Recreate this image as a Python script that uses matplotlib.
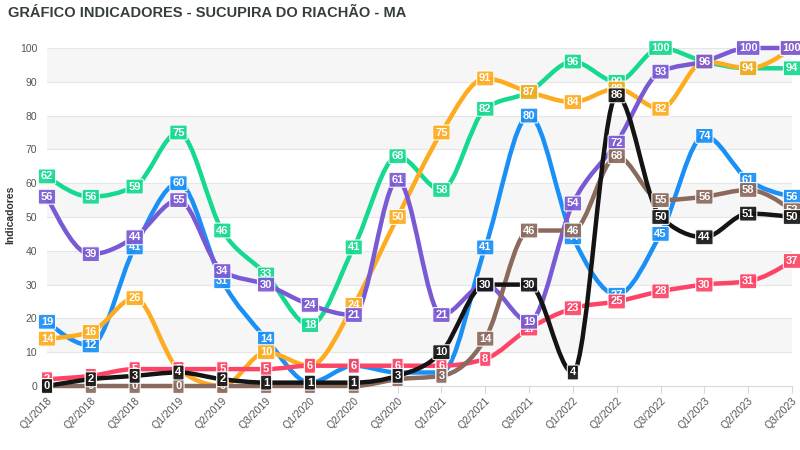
import matplotlib
matplotlib.use("Agg")
import matplotlib.pyplot as plt
from matplotlib.path import Path
from matplotlib.patches import PathPatch

plt.rcParams['font.family'] = ['Liberation Sans', 'DejaVu Sans']

periods = ['Q1/2018', 'Q2/2018', 'Q3/2018', 'Q1/2019', 'Q2/2019', 'Q3/2019',
           'Q1/2020', 'Q2/2020', 'Q3/2020', 'Q1/2021', 'Q2/2021', 'Q3/2021',
           'Q1/2022', 'Q2/2022', 'Q3/2022', 'Q1/2023', 'Q2/2023', 'Q3/2023']

blue = [19, 12, 41, 60, 31, 14, 1, 6, 4, 4, 41, 80, 44, 27, 45, 74, 61, 56]
green = [62, 56, 59, 75, 46, 33, 18, 41, 68, 58, 82, 87, 96, 90, 100, 96, 94, 94]
orange = [14, 16, 26, 5, 0, 10, 6, 24, 50, 75, 91, 87, 84, 88, 82, 96, 94, 100]
red = [2, 3, 5, 5, 5, 5, 6, 6, 6, 6, 8, 17, 23, 25, 28, 30, 31, 37]
purple = [56, 39, 44, 55, 34, 30, 24, 21, 61, 21, 30, 19, 54, 72, 93, 96, 100, 100]
brown = [0, 0, 0, 0, 0, 0, 0, 0, 2, 3, 14, 46, 46, 68, 55, 56, 58, 52]
black = [0, 2, 3, 4, 2, 1, 1, 1, 3, 10, 30, 30, 4, 86, 50, 44, 51, 50]

series = [
    (blue, '#1a8ff5'),
    (green, '#14d98e'),
    (orange, '#fdab1f'),
    (red, '#fd4466'),
    (purple, '#7a59d4'),
    (brown, '#8b6a5e'),
    (black, '#141414'),
]


def sign(v):
    return (v > 0) - (v < 0)


def smooth_path(xs, ys):
    # monotone cubic (like d3 curveMonotoneX), drawn as bezier segments
    n = len(xs)
    s = [(ys[i + 1] - ys[i]) / (xs[i + 1] - xs[i]) for i in range(n - 1)]
    m = [0.0] * n
    for i in range(1, n - 1):
        h0 = xs[i] - xs[i - 1]
        h1 = xs[i + 1] - xs[i]
        p = (s[i - 1] * h1 + s[i] * h0) / (h0 + h1)
        m[i] = (sign(s[i - 1]) + sign(s[i])) * min(abs(s[i - 1]), abs(s[i]), 0.5 * abs(p))
    m[0] = (3 * s[0] - m[1]) / 2
    m[-1] = (3 * s[-1] - m[-2]) / 2
    verts = [(xs[0], ys[0])]
    codes = [Path.MOVETO]
    for i in range(n - 1):
        dx = (xs[i + 1] - xs[i]) / 3
        verts += [(xs[i] + dx, ys[i] + m[i] * dx),
                  (xs[i + 1] - dx, ys[i + 1] - m[i + 1] * dx),
                  (xs[i + 1], ys[i + 1])]
        codes += [Path.CURVE4] * 3
    return Path(verts, codes)


fig = plt.figure(figsize=(8, 4.5), dpi=100)
ax = fig.add_axes([47 / 800, 1 - 386 / 450, 745 / 800, 338 / 450])

x = list(range(len(periods)))

# alternating bands
for lo in range(10, 100, 20):
    ax.axhspan(lo, lo + 10, color='#f6f6f6', zorder=0, lw=0)
for v in range(10, 101, 10):
    ax.axhline(v, color='#e6e6e6', lw=0.8, zorder=0.5)

for k, (vals, col) in enumerate(series):
    ax.add_patch(PathPatch(smooth_path(x, vals), fill=False, edgecolor=col,
                           lw=3.2, capstyle='round', joinstyle='round',
                           zorder=2 + k * 0.01, clip_on=False))
    for xi, v in zip(x, vals):
        ax.text(xi, v, str(v), ha='center', va='center', fontsize=8,
                fontweight='bold', color='white', zorder=10 + k, clip_on=False,
                bbox=dict(boxstyle='round,pad=0.22,rounding_size=0.12',
                          fc=col, ec='white', lw=0.8, alpha=0.92))

ax.set_xlim(0, 17)
ax.set_ylim(0, 100)
ax.set_xticks(x)
ax.set_xticklabels(periods, rotation=45, ha='right', rotation_mode='anchor',
                   fontsize=7.5, color='#555555')
ax.set_yticks(range(0, 101, 10))
ax.tick_params(axis='y', length=0, labelsize=7.5, labelcolor='#555555', pad=7)
ax.tick_params(axis='x', length=5, color='#d8d8d8', pad=2)
for s in ['top', 'right', 'left']:
    ax.spines[s].set_visible(False)
ax.spines['bottom'].set_color('#d8d8d8')
ax.spines['bottom'].set_zorder(1)

fig.text(10 / 800, 1 - 215 / 450, 'Indicadores', rotation=90, fontsize=7.5,
         fontweight='bold', color='#333333', ha='center', va='center')

fig.text(8 / 800, 1 - 13 / 450, 'GRÁFICO INDICADORES - SUCUPIRA DO RIACHÃO - MA',
         fontsize=10.5, fontweight='bold', color='#373d3f', va='center', ha='left')

fig.savefig('out.png', dpi=100)
